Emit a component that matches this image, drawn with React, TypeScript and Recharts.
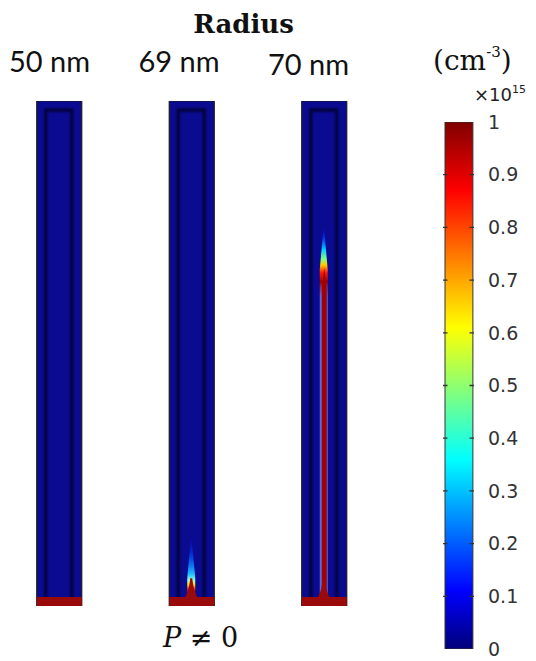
import React from "react";
import { ComposedChart, Bar, Scatter, XAxis, YAxis } from "recharts";

// nanowire radii (one column each)
const radii = ["50 nm", "69 nm", "70 nm"];
// heights along the wire, normalised to the wire length (0 = bottom contact)
const wireLength = [1, 1, 1];
const coreOutline = [0.982, 0.982, 0.982];
const contactBand = [0.018, 0.018, 0.018];
const tipCone = [0, 0.055, 0.052];
const glowTop = [0, 0.14, 0.755];
const redCore = [0, 0, 0.67];

// colour bar
const barTicks = [0, 0.1, 0.2, 0.3, 0.4, 0.5, 0.6, 0.7, 0.8, 0.9, 1];
const markTicks = [0.1, 0.2, 0.3, 0.4, 0.5, 0.6, 0.7, 0.8, 0.9];
const barTop = [1];

const jet = [
  { v: 0, c: "#00007a" },
  { v: 0.11, c: "#0000ff" },
  { v: 0.36, c: "#00ffff" },
  { v: 0.61, c: "#ffff00" },
  { v: 0.87, c: "#ff0000" },
  { v: 1, c: "#800000" },
];

const wires = radii.map((radius, i) => ({
  radius,
  slot: i,
  shell: wireLength[i],
  outline: coreOutline[i],
  band: contactBand[i],
  cone: tipCone[i],
  glow: glowTop[i],
  core: redCore[i],
}));

const colourBar = barTop.map((v) => ({ name: "n", v }));
const tickMarks = markTicks.map((v) => ({ name: "n", v }));

const axisIds = ["shell", "outline", "glow", "core", "cone", "band"];

const Outline = (p: any) => (
  <rect
    x={p.x}
    y={p.y}
    width={p.width}
    height={p.height}
    fill="none"
    stroke="#000030"
    strokeWidth={3.5}
    strokeOpacity={0.85}
    filter="url(#soft)"
  />
);

// needle: pointed at the top, full width below
const needle = (x: number, y: number, w: number, h: number, t: number) => {
  const k = Math.min(t, h * 0.6);
  return `M${x + w / 2},${y} L${x + w},${y + k} L${x + w},${y + h} L${x},${y + h} L${x},${y + k} Z`;
};

const Glow = (p: any) => {
  if (!p.height || p.height <= 0) return <g />;
  return (
    <path
      d={needle(p.x, p.y, p.width, p.height, 45)}
      fill={`url(#glow${p.index})`}
      filter="url(#soft2)"
    />
  );
};

const Core = (p: any) => {
  if (!p.height || p.height <= 0) return <g />;
  return <path d={needle(p.x, p.y, p.width, p.height, 22)} fill="#a00000" />;
};

const Cone = (p: any) => {
  const { x, y, width: w, height: h } = p;
  if (!h || h <= 0) return <g />;
  const d = `M${x},${y + h} C${x + w * 0.3},${y + h * 0.8} ${x + w * 0.42},${y + h * 0.45} ${x + w * 0.5 - 1},${y} L${x + w * 0.5 + 1},${y} C${x + w * 0.58},${y + h * 0.45} ${x + w * 0.7},${y + h * 0.8} ${x + w},${y + h} Z`;
  return <path d={d} fill="#9a0a0a" />;
};

// short inward marks on both edges of the colour bar
const TickMark = (p: any) => {
  const { cx, cy } = p;
  if (cx == null || cy == null) return <g />;
  return (
    <g stroke="#333" strokeWidth={1.3}>
      <line x1={cx - 15.5} x2={cx - 11} y1={cy} y2={cy} />
      <line x1={cx + 11} x2={cx + 15.5} y1={cy} y2={cy} />
    </g>
  );
};

const App = () => {
  return (
    <div style={{ position: "absolute", left: 0, top: 0, width: 536, height: 661, background: "#fff" }}>
      <svg width={0} height={0} style={{ position: "absolute" }}>
        <defs>
          <filter id="soft" x="-50%" y="-10%" width="200%" height="120%">
            <feGaussianBlur stdDeviation="1" />
          </filter>
          <filter id="soft2" x="-100%" y="-10%" width="300%" height="120%">
            <feGaussianBlur stdDeviation="0.7" />
          </filter>
          <linearGradient id="jet" x1="0" y1="1" x2="0" y2="0">
            {jet.map((s) => (
              <stop key={s.v} offset={s.v} stopColor={s.c} />
            ))}
          </linearGradient>
          <linearGradient id="glow1" x1="0" y1="0" x2="0" y2="1">
            <stop offset={0} stopColor="#0000ff" stopOpacity={0} />
            <stop offset={0.3} stopColor="#0050ff" stopOpacity={0.7} />
            <stop offset={0.55} stopColor="#20c0ff" />
            <stop offset={0.64} stopColor="#a0ffd0" />
            <stop offset={0.7} stopColor="#ffe000" />
            <stop offset={0.76} stopColor="#ff3000" />
            <stop offset={0.82} stopColor="#a00000" />
            <stop offset={1} stopColor="#a00000" />
          </linearGradient>
          <linearGradient id="glow2" x1="0" y1="0" x2="0" y2="1">
            <stop offset={0} stopColor="#0000ff" stopOpacity={0} />
            <stop offset={0.035} stopColor="#0040ff" stopOpacity={0.8} />
            <stop offset={0.065} stopColor="#00d0ff" />
            <stop offset={0.09} stopColor="#80ff80" />
            <stop offset={0.105} stopColor="#ffd000" />
            <stop offset={0.125} stopColor="#ff2000" />
            <stop offset={0.15} stopColor="#a00000" />
            <stop offset={0.19} stopColor="#8090ff" stopOpacity={0.7} />
            <stop offset={1} stopColor="#8090ff" stopOpacity={0.7} />
          </linearGradient>
        </defs>
      </svg>

      <div style={{ position: "absolute", left: 0, top: 0 }}>
        <ComposedChart
          width={536}
          height={661}
          data={wires}
          margin={{ top: 101, right: 159, bottom: 55, left: 6 }}
        >
          {axisIds.map((id) => (
            <XAxis
              key={id}
              xAxisId={id}
              type="number"
              dataKey="slot"
              domain={[-0.4, 2.4]}
              allowDataOverflow
              hide
            />
          ))}
          <YAxis type="number" domain={[0, 1]} allowDataOverflow hide />
          <Bar
            xAxisId="shell"
            dataKey="shell"
            barSize={45}
            fill="#0b0b92"
            stroke="#1a1a1a"
            strokeWidth={1.2}
            radius={[3, 3, 0, 0]}
            isAnimationActive={false}
          />
          <Bar xAxisId="outline" dataKey="outline" barSize={26} shape={Outline} isAnimationActive={false} />
          <Bar xAxisId="glow" dataKey="glow" barSize={8} shape={Glow} isAnimationActive={false} />
          <Bar xAxisId="core" dataKey="core" barSize={5} shape={Core} isAnimationActive={false} />
          <Bar xAxisId="band" dataKey="band" barSize={45} fill="#9a0a0a" isAnimationActive={false} />
          <Bar xAxisId="cone" dataKey="cone" barSize={28} shape={Cone} isAnimationActive={false} />
        </ComposedChart>
      </div>

      <div style={{ position: "absolute", left: 0, top: 0 }}>
        <ComposedChart
          width={536}
          height={661}
          data={colourBar}
          margin={{ top: 122, right: 12, bottom: 12, left: 443 }}
        >
          <XAxis dataKey="name" type="category" allowDuplicatedCategory={false} hide />
          <YAxis
            yAxisId="lbl"
            orientation="right"
            type="number"
            domain={[0, 1]}
            ticks={barTicks}
            allowDataOverflow
            width={50}
            axisLine={false}
            tickLine={false}
            tickSize={4}
            tickMargin={10}
            interval={0}
            tick={{ fontSize: 19, fill: "#333", fontFamily: "DejaVu Sans", textAnchor: "start" }}
          />
          <Bar
            yAxisId="lbl"
            dataKey="v"
            barSize={31}
            fill="url(#jet)"
            stroke="#333"
            strokeWidth={1}
            isAnimationActive={false}
          />
          <Scatter
            yAxisId="lbl"
            data={tickMarks}
            dataKey="v"
            shape={TickMark}
            isAnimationActive={false}
          />
        </ComposedChart>
      </div>

      <svg
        width={536}
        height={661}
        style={{ position: "absolute", left: 0, top: 0, pointerEvents: "none" }}
      >
        <text x={243.5} y={33} textAnchor="middle" fontFamily="DejaVu Serif" fontWeight="bold" fontSize={26} fill="#111">
          Radius
        </text>
        <text x={49.5} y={72} textAnchor="middle" fontFamily="Lato" fontSize={29} fill="#111">
          {radii[0]}
        </text>
        <text x={179} y={72} textAnchor="middle" fontFamily="Lato" fontSize={29} fill="#111">
          {radii[1]}
        </text>
        <text x={308.5} y={75} textAnchor="middle" fontFamily="Lato" fontSize={29} fill="#111">
          {radii[2]}
        </text>
        <text x={433} y={70} fontFamily="DejaVu Serif" fontSize={28} fill="#111">
          (cm
          <tspan fontSize={15} dy={-13}>-3</tspan>
          <tspan dy={13}>)</tspan>
        </text>
        <text x={474} y={101} fontFamily="DejaVu Sans" fontSize={18} fill="#222">
          ×10
          <tspan fontSize={11} dy={-8}>15</tspan>
        </text>
        <text x={163} y={647} fontFamily="DejaVu Serif" fontSize={27} fill="#111">
          <tspan fontStyle="italic">P</tspan> ≠ 0
        </text>
      </svg>
    </div>
  );
};

export default App;
